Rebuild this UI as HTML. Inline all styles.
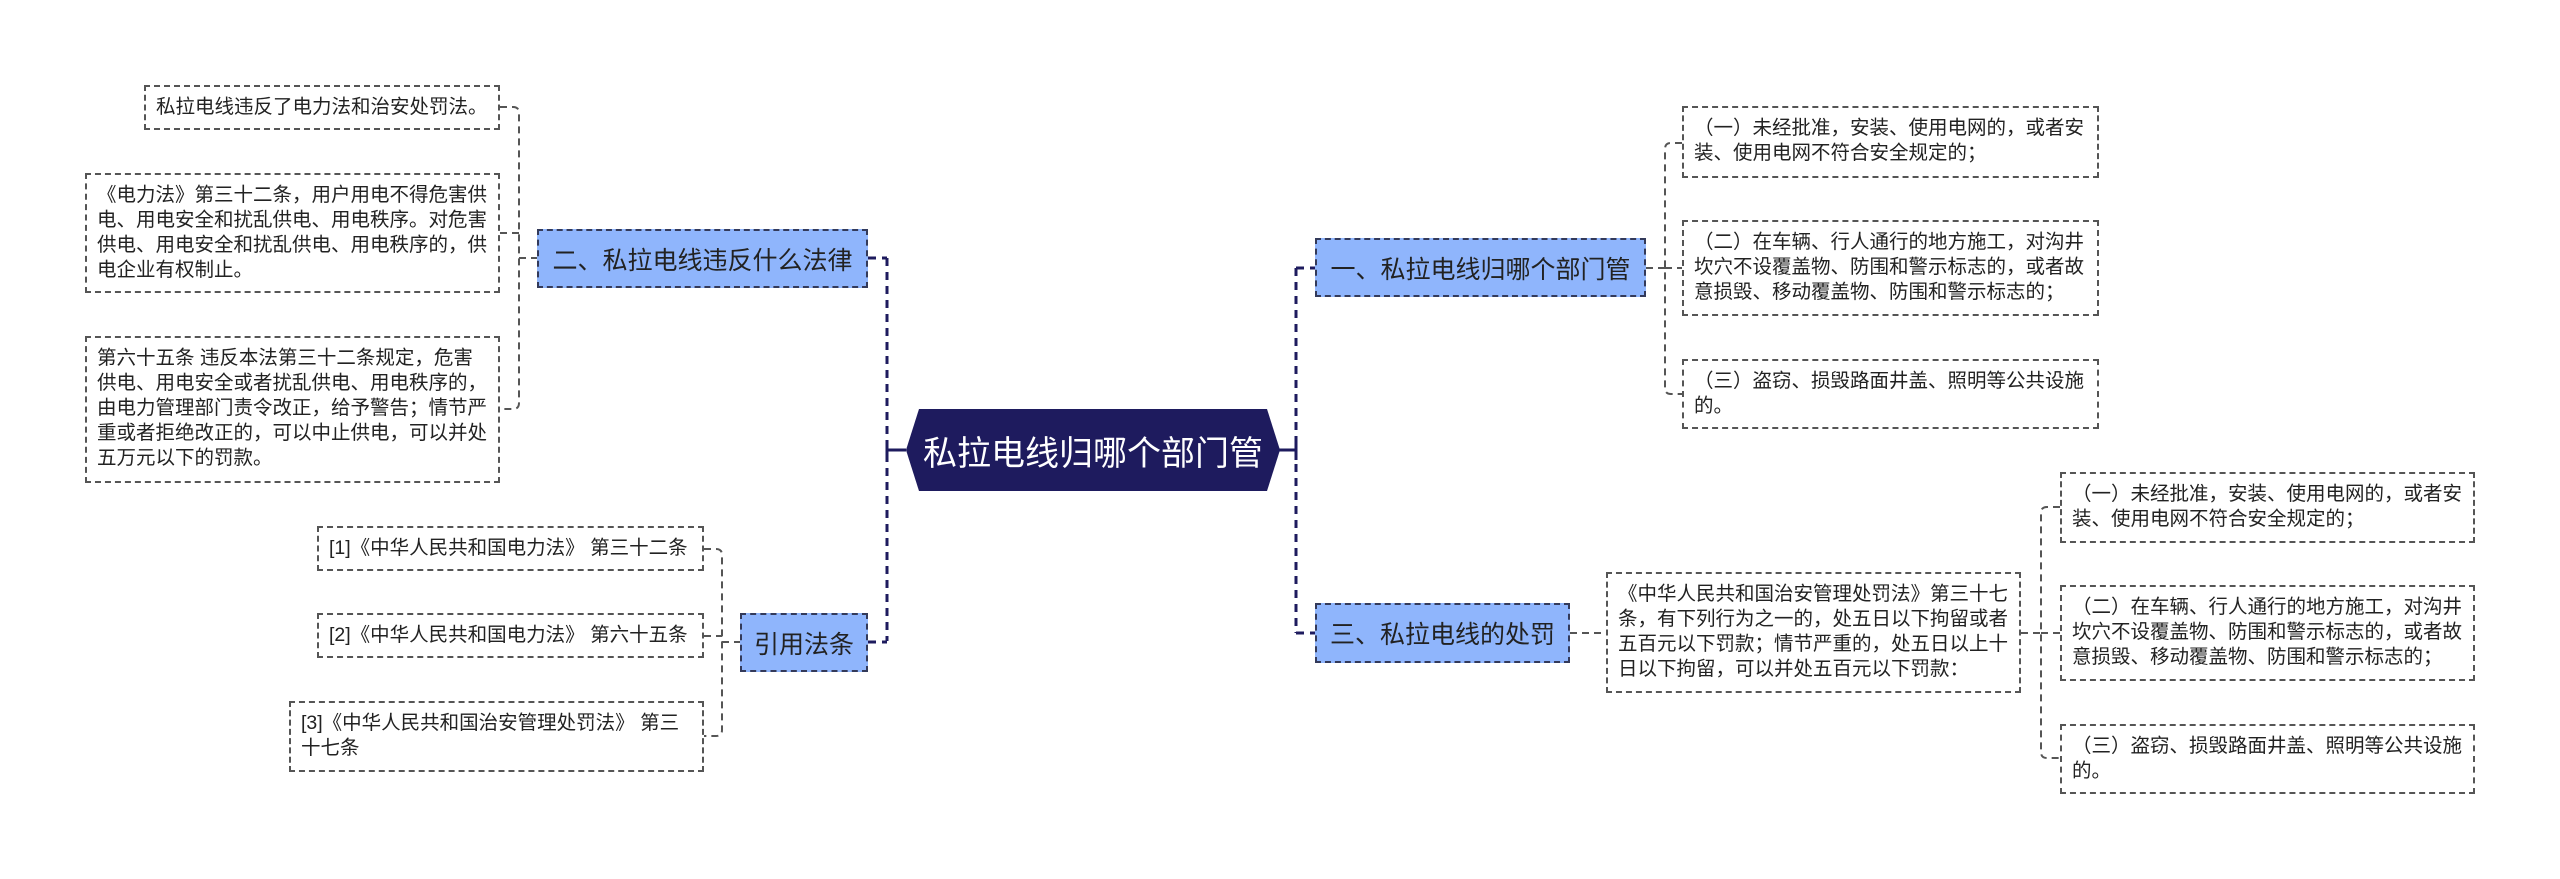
<!DOCTYPE html>
<html><head><meta charset="utf-8"><style>
body{margin:0;width:2560px;height:879px;background:#fff;position:relative;overflow:hidden;font-family:"Liberation Sans","Noto Sans CJK SC",sans-serif;}
.b{position:absolute;box-sizing:border-box;white-space:nowrap;}
.leaf{border:2px dashed #555;font-size:19.5px;line-height:25px;color:#222;padding:8px 10px;}
.main{background:#8fb5fc;border:2px dashed #333a5a;font-size:25px;color:#222;display:flex;align-items:center;justify-content:center;}
svg{position:absolute;left:0;top:0}
</style></head><body>
<svg width="2560" height="879">
<g fill="none" stroke="#1e1b5e" stroke-width="3" stroke-dasharray="8,6">
<path d="M887 258 V641"/><path d="M868 258 H887"/><path d="M868 642 H887"/>
<path d="M1296 268 V633"/><path d="M1296 268 H1315"/><path d="M1296 633 H1315"/>
</g>
<g fill="none" stroke="#1e1b5e" stroke-width="3">
<path d="M887 450 H906"/><path d="M887 440 V460"/>
<path d="M1279 450 H1296"/><path d="M1296 440 V460"/>
</g>
<g fill="none" stroke="#555" stroke-width="2" stroke-dasharray="7,5">
<path d="M500 107 H513 Q519 107 519 113 V403 Q519 409 513 409 H500"/><path d="M500 233 H519"/><path d="M519 258 H537"/>
<path d="M704 549 H716 Q722 549 722 555 V730 Q722 736 716 736 H704"/><path d="M704 636 H722"/><path d="M722 642 H740"/>
<path d="M1682 143 H1671 Q1665 143 1665 149 V388 Q1665 394 1671 394 H1682"/><path d="M1665 268 H1682"/><path d="M1646 268 H1665"/>
<path d="M2060 507 H2047 Q2041 507 2041 513 V752 Q2041 758 2047 758 H2060"/><path d="M2041 633 H2060"/><path d="M2021 633 H2041"/>
<path d="M1570 633 H1606"/>
</g>
</svg>
<svg width="2560" height="879"><polygon points="919,409 1267,409 1280,450 1267,491 919,491 906,450" fill="#1e1b5e"/></svg>
<div class="b" style="left:906px;top:409px;width:374px;height:82px;color:#fff;font-size:34px;display:flex;align-items:center;justify-content:center;">私拉电线归哪个部门管</div>

<div class="b main" style="left:537px;top:229px;width:331px;height:59px;">二、私拉电线违反什么法律</div>
<div class="b main" style="left:740px;top:613px;width:128px;height:59px;">引用法条</div>
<div class="b main" style="left:1315px;top:238px;width:331px;height:59px;">一、私拉电线归哪个部门管</div>
<div class="b main" style="left:1315px;top:603px;width:255px;height:60px;">三、私拉电线的处罚</div>

<div class="b leaf" style="left:144px;top:85px;width:356px;height:45px;">私拉电线违反了电力法和治安处罚法。</div>
<div class="b leaf" style="left:85px;top:173px;width:415px;height:120px;">《电力法》第三十二条，用户用电不得危害供<br>电、用电安全和扰乱供电、用电秩序。对危害<br>供电、用电安全和扰乱供电、用电秩序的，供<br>电企业有权制止。</div>
<div class="b leaf" style="left:85px;top:336px;width:415px;height:147px;">第六十五条 违反本法第三十二条规定，危害<br>供电、用电安全或者扰乱供电、用电秩序的，<br>由电力管理部门责令改正，给予警告；情节严<br>重或者拒绝改正的，可以中止供电，可以并处<br>五万元以下的罚款。</div>
<div class="b leaf" style="left:317px;top:526px;width:387px;height:45px;">[1]《中华人民共和国电力法》 第三十二条</div>
<div class="b leaf" style="left:317px;top:613px;width:387px;height:45px;">[2]《中华人民共和国电力法》 第六十五条</div>
<div class="b leaf" style="left:289px;top:701px;width:415px;height:71px;">[3]《中华人民共和国治安管理处罚法》 第三<br>十七条</div>

<div class="b leaf" style="left:1682px;top:106px;width:417px;height:72px;">（一）未经批准，安装、使用电网的，或者安<br>装、使用电网不符合安全规定的；</div>
<div class="b leaf" style="left:1682px;top:220px;width:417px;height:96px;">（二）在车辆、行人通行的地方施工，对沟井<br>坎穴不设覆盖物、防围和警示标志的，或者故<br>意损毁、移动覆盖物、防围和警示标志的；</div>
<div class="b leaf" style="left:1682px;top:359px;width:417px;height:70px;">（三）盗窃、损毁路面井盖、照明等公共设施<br>的。</div>
<div class="b leaf" style="left:1606px;top:572px;width:415px;height:121px;">《中华人民共和国治安管理处罚法》第三十七<br>条，有下列行为之一的，处五日以下拘留或者<br>五百元以下罚款；情节严重的，处五日以上十<br>日以下拘留，可以并处五百元以下罚款：</div>
<div class="b leaf" style="left:2060px;top:472px;width:415px;height:71px;">（一）未经批准，安装、使用电网的，或者安<br>装、使用电网不符合安全规定的；</div>
<div class="b leaf" style="left:2060px;top:585px;width:415px;height:96px;">（二）在车辆、行人通行的地方施工，对沟井<br>坎穴不设覆盖物、防围和警示标志的，或者故<br>意损毁、移动覆盖物、防围和警示标志的；</div>
<div class="b leaf" style="left:2060px;top:724px;width:415px;height:70px;">（三）盗窃、损毁路面井盖、照明等公共设施<br>的。</div>
</body></html>
